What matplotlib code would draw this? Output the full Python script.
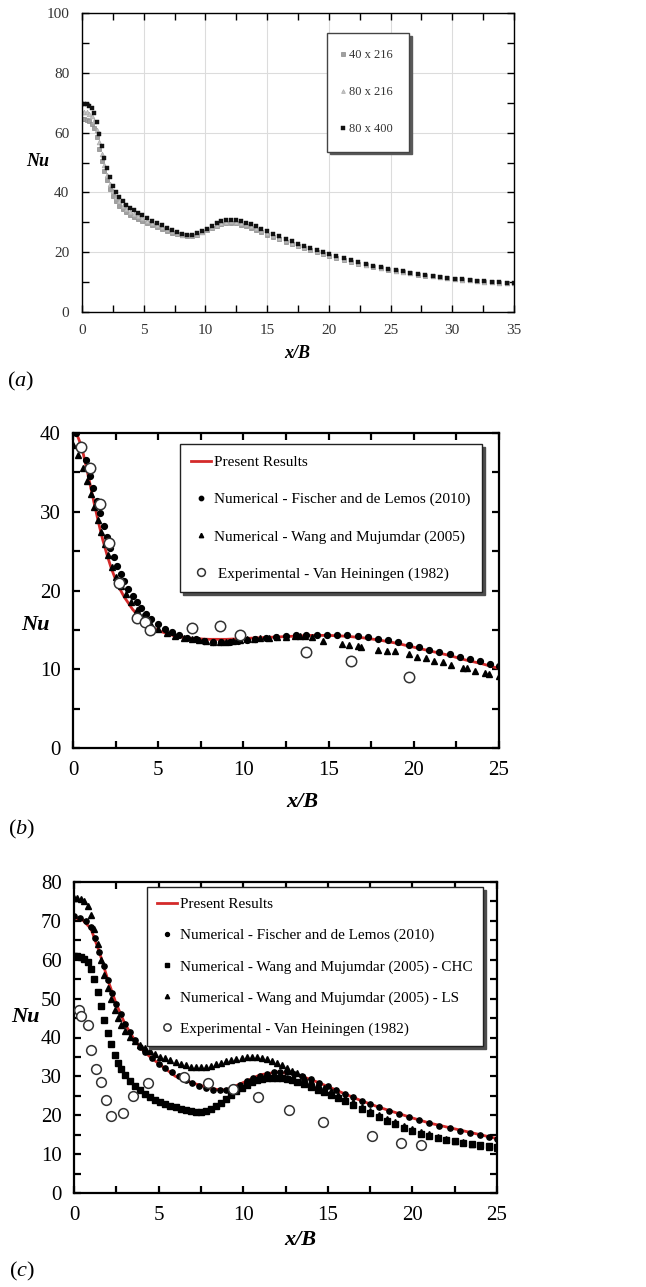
import numpy as np
import matplotlib
matplotlib.use('Agg')
import matplotlib.pyplot as plt
from matplotlib.ticker import MultipleLocator

plt.rcParams['font.family'] = ['Liberation Serif', 'DejaVu Serif']
plt.rcParams['mathtext.fontset'] = 'custom'
plt.rcParams['mathtext.rm'] = 'Liberation Serif'
plt.rcParams['mathtext.it'] = 'Liberation Serif:italic'

#### DATA (a) - grid independence ####
xa = [0, 0.2, 0.4, 0.6, 0.8, 1.0, 1.2, 1.4, 1.6, 1.8, 2.0, 2.25, 2.5, 2.75, 3.0, 3.3, 3.6, 3.9, 4.2, 4.5,
      4.9, 5.3, 5.7, 6.1, 6.5, 6.9, 7.3, 7.7, 8.1, 8.5, 8.9, 9.3, 9.7, 10.1, 10.5, 10.9, 11.3, 11.7, 12.1, 12.5,
      12.9, 13.3, 13.7, 14.1, 14.5, 15.0, 15.5, 16.0, 16.5, 17.0, 17.5, 18.0, 18.5, 19.0, 19.5, 20.0, 20.6, 21.2,
      21.8, 22.4, 23.0, 23.6, 24.2, 24.8, 25.4, 26.0, 26.6, 27.2, 27.8, 28.4, 29.0, 29.6, 30.2, 30.8, 31.4, 32.0,
      32.6, 33.2, 33.8, 34.4, 35.0]
nu_40x216 = [64.5, 64.5, 64.3, 63.8, 63, 61.5, 58.5, 54.5, 50.5, 47, 44, 41, 38.8, 37, 35.6, 34.3, 33.3, 32.5,
             31.8, 31.2, 30.5, 29.8, 29.1, 28.4, 27.8, 27.1, 26.5, 26, 25.6, 25.4, 25.5, 25.9, 26.6, 27.4, 28.2,
             28.9, 29.4, 29.7, 29.8, 29.6, 29.2, 28.7, 28.1, 27.4, 26.7, 25.9, 25.1, 24.3, 23.5, 22.8, 22.1, 21.4,
             20.7, 20.0, 19.4, 18.8, 18.1, 17.5, 16.8, 16.2, 15.6, 15.1, 14.6, 14.1, 13.7, 13.3, 12.9, 12.5, 12.2,
             11.9, 11.6, 11.3, 11.0, 10.8, 10.6, 10.4, 10.2, 10.0, 9.8, 9.7, 9.6]
nu_80x216 = [67, 67, 66.8, 66.3, 65.5, 63.8, 60.8, 56.8, 52.8, 49, 45.8, 42.8, 40.5, 38.5, 37, 35.6, 34.5, 33.6,
             32.9, 32.2, 31.4, 30.6, 29.8, 29.1, 28.4, 27.6, 27, 26.4, 25.9, 25.6, 25.7, 26.1, 26.8, 27.6, 28.5,
             29.2, 29.8, 30.2, 30.3, 30.2, 29.8, 29.3, 28.7, 28.0, 27.3, 26.5, 25.6, 24.8, 24.0, 23.2, 22.5, 21.8,
             21.0, 20.3, 19.7, 19.1, 18.4, 17.7, 17.0, 16.4, 15.8, 15.3, 14.8, 14.3, 13.8, 13.4, 13.0, 12.6, 12.3,
             12.0, 11.7, 11.4, 11.1, 10.8, 10.6, 10.4, 10.2, 10.0, 9.8, 9.7, 9.6]
nu_80x400 = [69.5, 69.5, 69.4, 69.0, 68.3, 66.5, 63.5, 59.5, 55.5, 51.5, 48, 45, 42.3, 40.2, 38.5, 37, 35.8, 34.8,
             34, 33.2, 32.3, 31.5, 30.6, 29.8, 29, 28.2, 27.5, 26.8, 26.2, 25.9, 25.9, 26.3, 27, 27.9, 28.8, 29.6,
             30.3, 30.7, 30.8, 30.7, 30.4, 29.9, 29.3, 28.6, 27.9, 27.1, 26.2, 25.3, 24.5, 23.7, 22.9, 22.1, 21.4,
             20.7, 20.0, 19.4, 18.7, 18.0, 17.3, 16.7, 16.1, 15.5, 15.0, 14.5, 14.0, 13.6, 13.2, 12.8, 12.4, 12.1,
             11.8, 11.5, 11.2, 10.9, 10.7, 10.5, 10.3, 10.1, 9.9, 9.8, 9.7]

#### DATA (b) ####
xb_present = [0.2, 0.5, 0.75, 1.0, 1.25, 1.5, 1.75, 2.0, 2.25, 2.5, 2.75, 3.0, 3.5, 4.0, 4.5, 5, 6, 7, 8, 9, 10,
              11, 12, 13, 14, 15, 16, 17, 18, 19, 20, 21, 22, 23, 24, 25]
nub_present = [40, 38.3, 36.0, 33.5, 31.0, 28.6, 26.4, 24.5, 22.8, 21.4, 20.2, 19.2, 17.6, 16.4, 15.5, 14.9,
               14.2, 13.9, 13.8, 13.8, 13.9, 14.0, 14.1, 14.2, 14.3, 14.3, 14.2, 14.0, 13.7, 13.3, 12.8, 12.3,
               11.8, 11.2, 10.7, 10.1]
xb_fischer = [0.15, 0.45, 0.75, 1.0, 1.2, 1.4, 1.6, 1.8, 2.0, 2.2, 2.4, 2.6, 2.8, 3.0, 3.25, 3.5, 3.75, 4.0, 4.3,
              4.6, 5.0, 5.4, 5.8, 6.2, 6.7, 7.2, 7.7, 8.2, 8.7, 9.2, 9.7, 10.2, 10.7, 11.3, 11.9, 12.5, 13.1,
              13.7, 14.3, 14.9, 15.5, 16.1, 16.7, 17.3, 17.9, 18.5, 19.1, 19.7, 20.3, 20.9, 21.5, 22.1, 22.7,
              23.3, 23.9, 24.5, 25.0]
nub_fischer = [40, 38.5, 36.6, 34.6, 33, 31.4, 29.8, 28.2, 26.8, 25.4, 24.2, 23.1, 22.1, 21.2, 20.2, 19.3, 18.5,
               17.8, 17.0, 16.4, 15.7, 15.1, 14.7, 14.3, 14.0, 13.8, 13.6, 13.5, 13.5, 13.5, 13.6, 13.7, 13.9,
               14.0, 14.1, 14.2, 14.3, 14.3, 14.4, 14.4, 14.4, 14.3, 14.2, 14.1, 13.9, 13.7, 13.4, 13.1, 12.8,
               12.5, 12.2, 11.9, 11.6, 11.3, 11.0, 10.7, 10.4]
xb_wang = [0.0, 0.3, 0.6, 0.85, 1.05, 1.25, 1.45, 1.65, 1.85, 2.05, 2.3, 2.55, 2.8, 3.1, 3.4, 3.75, 4.1, 4.5, 5.0,
           5.5, 6.0, 6.5, 7.0, 7.4, 7.8, 8.2, 8.6, 9.0, 9.4, 9.8, 10.2, 10.6, 11.0, 11.5, 12.0, 12.5, 13.0, 13.3,
           13.6, 14.0, 14.7, 15.8, 16.2, 16.7, 16.9, 17.9, 18.4, 18.9, 19.7, 20.2, 20.7, 21.2, 21.7, 22.2, 22.9,
           23.1, 23.6, 24.2, 24.4, 25.0]
nub_wang = [38.5, 37.2, 35.6, 33.9, 32.3, 30.6, 29.0, 27.4, 25.9, 24.5, 23.0, 21.7, 20.6, 19.5, 18.5, 17.5, 16.7,
            15.9, 15.1, 14.6, 14.2, 14.0, 13.8, 13.7, 13.6, 13.5, 13.5, 13.5, 13.6, 13.7, 13.8, 13.9, 14.0, 14.0,
            14.1, 14.1, 14.2, 14.2, 14.2, 14.1, 13.6, 13.2, 13.1, 12.9, 12.8, 12.5, 12.3, 12.3, 11.9, 11.6, 11.4,
            11.1, 10.9, 10.6, 10.2, 10.1, 9.8, 9.5, 9.4, 9.1]
xb_exp = [0.45, 1.0, 1.6, 2.1, 2.7, 3.75, 4.2, 4.5, 7.0, 8.6, 9.8, 13.7, 16.3, 19.7]
nub_exp = [38.2, 35.6, 31.0, 26.0, 21.0, 16.5, 16.0, 15.0, 15.2, 15.5, 14.3, 12.2, 11.0, 9.0]

#### DATA (c) ####
xc_present = [0, 0.5, 1.0, 1.5, 2.0, 2.5, 3.0, 3.5, 4.0, 4.5, 5, 6, 7, 8, 8.5, 9, 10, 11, 12, 13, 14, 15, 16, 17,
              18, 19, 20, 21, 22, 23, 24, 25]
nuc_present = [70.8, 70.3, 68.0, 62.0, 54.8, 48.6, 43.6, 39.9, 37.0, 35.0, 33.3, 30.0, 28.3, 27.0, 26.6, 26.5,
               28.4, 30.4, 31.1, 30.6, 29.2, 27.4, 25.5, 23.7, 22.1, 20.7, 19.3, 18.0, 17.0, 16.0, 15.0, 14.0]
xc_fischer = [0.0, 0.35, 0.7, 1.0, 1.25, 1.5, 1.75, 2.0, 2.25, 2.5, 2.75, 3.0, 3.3, 3.6, 3.9, 4.2, 4.6, 5.0, 5.4,
              5.8, 6.2, 6.6, 7.0, 7.4, 7.8, 8.2, 8.6, 9.0, 9.4, 9.8, 10.2, 10.6, 11.0, 11.4, 11.8, 12.2, 12.6,
              13.0, 13.5, 14.0, 14.5, 15.0, 15.5, 16.0, 16.5, 17.0, 17.5, 18.0, 18.6, 19.2, 19.8, 20.4, 21.0,
              21.6, 22.2, 22.8, 23.4, 24.0, 24.5, 25.0]
nuc_fischer = [71.3, 70.8, 70.0, 68.3, 65.5, 62.0, 58.3, 54.8, 51.5, 48.6, 46.0, 43.6, 41.3, 39.3, 37.6, 36.2,
               34.7, 33.3, 32.1, 31.0, 30.0, 29.1, 28.3, 27.6, 27.0, 26.6, 26.4, 26.5, 27.0, 27.8, 28.7, 29.5,
               30.2, 30.7, 31.0, 31.1, 31.0, 30.6, 30.0, 29.2, 28.3, 27.4, 26.4, 25.5, 24.6, 23.7, 22.9, 22.1,
               21.2, 20.3, 19.5, 18.7, 17.9, 17.2, 16.6, 16.0, 15.4, 14.9, 14.4, 14.0]
xc_wang = [0.0, 0.2, 0.4, 0.6, 0.8, 1.0, 1.2, 1.4, 1.6, 1.8, 2.0, 2.2, 2.4, 2.6, 2.8, 3.0, 3.3, 3.6, 3.9, 4.2, 4.5,
           4.8, 5.1, 5.4, 5.7, 6.0, 6.3, 6.6, 6.9, 7.2, 7.5, 7.8, 8.1, 8.4, 8.7, 9.0, 9.3, 9.6, 9.9, 10.2, 10.5,
           10.8, 11.1, 11.4, 11.7, 12.0, 12.3, 12.6, 12.9, 13.2, 13.6, 14.0, 14.4, 14.8, 15.2, 15.6, 16.0, 16.5,
           17.0, 17.5, 18.0, 18.5, 19.0, 19.5, 20.0, 20.5, 21.0, 21.5, 22.0, 22.5, 23.0, 23.5, 24.0, 24.5, 25.0]
nuc_chc = [61, 61, 60.8, 60.3, 59.3, 57.5, 55.0, 51.8, 48.2, 44.6, 41.2, 38.2, 35.6, 33.5, 31.8, 30.4, 28.8, 27.5,
           26.4, 25.5, 24.7, 24.0, 23.4, 22.9, 22.4, 22.0, 21.6, 21.3, 21.0, 20.9, 20.9, 21.1, 21.6, 22.3, 23.2,
           24.2, 25.2, 26.2, 27.1, 27.9, 28.5, 29.0, 29.3, 29.5, 29.6, 29.6, 29.5, 29.3, 29.0, 28.6, 28.0, 27.3,
           26.6, 25.9, 25.2, 24.5, 23.7, 22.7, 21.6, 20.6, 19.6, 18.6, 17.7, 16.8, 16.0, 15.3, 14.7, 14.2, 13.7,
           13.3, 12.9, 12.6, 12.3, 12.0, 11.8]
nuc_ls = [75.8, 75.8, 75.6, 75.0, 73.8, 71.5, 68.0, 64.0, 60.0, 56.2, 52.8, 49.8, 47.2, 45.0, 43.2, 41.8, 40.2,
          39.0, 38.0, 37.2, 36.4, 35.7, 35.1, 34.6, 34.1, 33.6, 33.2, 32.8, 32.5, 32.3, 32.3, 32.4, 32.7, 33.1,
          33.5, 33.9, 34.2, 34.5, 34.7, 34.9, 35.0, 34.9, 34.7, 34.4, 34.0, 33.5, 32.9, 32.2, 31.5, 30.8, 29.8,
          28.9, 28.0, 27.1, 26.2, 25.3, 24.4, 23.3, 22.2, 21.1, 20.1, 19.1, 18.2, 17.3, 16.5, 15.8, 15.1, 14.5,
          14.0, 13.5, 13.0, 12.6, 12.2, 11.9, 11.6]
xc_exp = [0.3, 0.4, 0.8, 1.0, 1.3, 1.6, 1.9, 2.2, 2.9, 3.5, 4.4, 6.5, 7.9, 9.4, 10.9, 12.7, 14.7, 17.6, 19.3, 20.5]
nuc_exp = [47.2, 45.5, 43.3, 36.9, 32.0, 28.5, 23.8, 19.7, 20.6, 25.0, 28.3, 29.8, 28.3, 26.8, 24.7, 21.4, 18.2,
           14.6, 12.9, 12.4]

RED = '#d42a2a'
W, H = 646, 1287


def box(l, r, t, b):
    return [l / W, 1 - b / H, (r - l) / W, (b - t) / H]


def style(ax, xmax, ymax, xmaj, xmin, ymaj, ymin, lw, fs, tcol):
    ax.set_xlim(0, xmax)
    ax.set_ylim(0, ymax)
    ax.xaxis.set_major_locator(MultipleLocator(xmaj))
    ax.xaxis.set_minor_locator(MultipleLocator(xmin))
    ax.yaxis.set_major_locator(MultipleLocator(ymaj))
    ax.yaxis.set_minor_locator(MultipleLocator(ymin))
    ax.tick_params(which='both', direction='in', top=True, right=True, length=5, width=lw,
                   labelsize=fs, labelcolor=tcol, pad=9)
    for s in ax.spines.values():
        s.set_linewidth(lw)


fig = plt.figure(figsize=(W / 100, H / 100), dpi=100)

#### PANEL (a) ####
ax = fig.add_axes(box(82, 514, 13, 312))
style(ax, 35, 100, 5, 2.5, 20, 10, 1.0, 11, '#333333')
ax.grid(True, which='major', color='#dcdcdc', lw=0.8)
ax.set_axisbelow(True)
ax.plot(xa, nu_40x216, 's', ms=3.2, mfc='#a0a0a0', mec='#8a8a8a', mew=0.5, label='40 x 216')
ax.plot(xa, nu_80x216, '^', ms=3.4, mfc='#c4c4c4', mec='#aaaaaa', mew=0.5, label='80 x 216')
ax.plot(xa, nu_80x400, 's', ms=3.0, mfc='#111111', mec='#111111', mew=0.3, label='80 x 400')
leg = ax.legend(loc='upper left', bbox_to_anchor=(0.567, 0.933), fontsize=9, frameon=True, fancybox=False,
                edgecolor='#444444', labelspacing=2.0, handlelength=0.0, handletextpad=0.45, borderpad=1.3,
                borderaxespad=0, shadow={'color': '0.35', 'alpha': 1}, markerscale=0.8)
for t in leg.get_texts():
    t.set_color('#333333')
fig.text(38 / W, 1 - 161 / H, 'Nu', fontsize=13, fontweight='bold', style='italic', ha='center', va='center')
fig.text(297 / W, 1 - 354 / H, 'x/B', fontsize=13, fontweight='bold', style='italic', ha='center', va='center')
fig.text(21 / W, 1 - 381 / H, r'$(\mathit{a})$', fontsize=16, ha='center', va='center')

#### PANEL (b) ####
ax = fig.add_axes(box(73, 499, 433, 748))
style(ax, 25, 40, 5, 2.5, 10, 5, 1.6, 15, 'black')
ax.plot(xb_present, nub_present, '-', color=RED, lw=2.0, label='Present Results', zorder=2)
ax.plot(xb_fischer, nub_fischer, 'o', color='black', ms=4.2, label='Numerical - Fischer and de Lemos (2010)', zorder=3)
ax.plot(xb_wang, nub_wang, '^', color='black', ms=4.2, label='Numerical - Wang and Mujumdar (2005)', zorder=3)
ax.plot(xb_exp, nub_exp, 'o', mfc='white', mec='#333333', mew=1.1, ms=7.5,
        label=' Experimental - Van Heiningen (1982)', zorder=4)
ax.legend(loc='upper right', bbox_to_anchor=(0.96, 0.965), fontsize=11, frameon=True, fancybox=False,
          edgecolor='#222222', labelspacing=1.53, handlelength=1.3, handletextpad=0.2, borderpad=0.75,
          borderaxespad=0, shadow={'color': '0.3', 'alpha': 1}, markerscale=0.75)
fig.text(35 / W, 1 - 625 / H, 'Nu', fontsize=16, fontweight='bold', style='italic', ha='center', va='center')
fig.text(302 / W, 1 - 802 / H, 'x/B', fontsize=16, fontweight='bold', style='italic', ha='center', va='center')
fig.text(22 / W, 1 - 829 / H, r'$(\mathit{b})$', fontsize=16, ha='center', va='center')

#### PANEL (c) ####
ax = fig.add_axes(box(74, 497, 882, 1193))
style(ax, 25, 80, 5, 2.5, 10, 5, 1.6, 15, 'black')
ax.plot(xc_present, nuc_present, '-', color=RED, lw=2.0, label='Present Results', zorder=2)
ax.plot(xc_fischer, nuc_fischer, 'o', color='black', ms=3.8, label='Numerical - Fischer and de Lemos (2010)', zorder=3)
ax.plot(xc_wang, nuc_chc, 's', color='black', ms=4.0, label='Numerical - Wang and Mujumdar (2005) - CHC', zorder=3)
ax.plot(xc_wang, nuc_ls, '^', color='black', ms=4.2, label='Numerical - Wang and Mujumdar (2005) - LS', zorder=3)
ax.plot(xc_exp, nuc_exp, 'o', mfc='white', mec='#333333', mew=1.1, ms=7.0,
        label='Experimental - Van Heiningen (1982)', zorder=4)
ax.legend(loc='upper right', bbox_to_anchor=(0.967, 0.984), fontsize=10.9, frameon=True, fancybox=False,
          edgecolor='#222222', labelspacing=1.15, handlelength=1.3, handletextpad=0.2, borderpad=0.7,
          borderaxespad=0, shadow={'color': '0.3', 'alpha': 1}, markerscale=0.75)
fig.text(25 / W, 1 - 1017 / H, 'Nu', fontsize=16, fontweight='bold', style='italic', ha='center', va='center')
fig.text(300 / W, 1 - 1240 / H, 'x/B', fontsize=16, fontweight='bold', style='italic', ha='center', va='center')
fig.text(22 / W, 1 - 1271 / H, r'$(\mathit{c})$', fontsize=16, ha='center', va='center')

fig.savefig('out.png', dpi=100)
